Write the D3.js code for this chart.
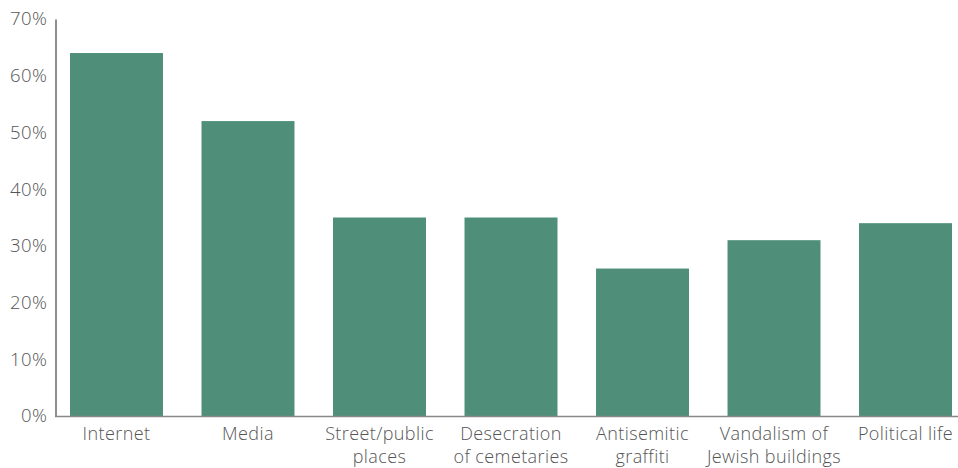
<!DOCTYPE html>
<html><head><meta charset="utf-8">
<script src="https://cdn.jsdelivr.net/npm/d3@7"></script>
<style>body{margin:0;background:#fff}svg text{font-family:"Open Sans",sans-serif;fill:#555;font-weight:300}</style>
</head><body><svg id="c" width="958" height="468"></svg>
<script>
const categories = ["Internet","Media","Street/public places","Desecration of cemetaries","Antisemitic graffiti","Vandalism of Jewish buildings","Political life"];
const labelLines = [["Internet"],["Media"],["Street/public","places"],["Desecration","of cemetaries"],["Antisemitic","graffiti"],["Vandalism of","Jewish buildings"],["Political life"]];
const values = [64,52,35,35,26,31,34];
const yTicks = [0,10,20,30,40,50,60,70];

const svg = d3.select("#c");
const x = d3.scaleBand().domain(categories).range([70,952]).paddingInner(0.293).paddingOuter(0);
const y = d3.scaleLinear().domain([0,70]).range([416,19]);

svg.selectAll("rect.bar").data(values).join("rect").attr("class","bar")
  .attr("x",(d,i)=>x(categories[i])).attr("width",x.bandwidth())
  .attr("y",d=>y(d)).attr("height",d=>y(0)-y(d)).attr("fill","#4f8f79");

// y axis
const ya = svg.append("g").attr("transform","translate(55.5,0)")
  .call(d3.axisLeft(y).tickValues(yTicks).tickFormat(d=>d+"%").tickSize(0).tickPadding(8));
ya.select(".domain").attr("stroke","#444").attr("stroke-width",1.2);
ya.selectAll("text").attr("font-size",18.5).style("font-family","'Open Sans',sans-serif").style("fill","#555").style("letter-spacing","0.5px");

// x axis line
svg.append("line").attr("x1",55).attr("x2",958).attr("y1",416.5).attr("y2",416.5).attr("stroke","#888").attr("stroke-width",1.5);

const xl = svg.append("g");
categories.forEach((c,i)=>{
  labelLines[i].forEach((ln,j)=>xl.append("text")
    .attr("x",x(c)+x.bandwidth()/2).attr("y",440+j*22.5)
    .attr("text-anchor","middle").attr("font-size",18).style("letter-spacing","0.4px").text(ln));
});
</script></body></html>
